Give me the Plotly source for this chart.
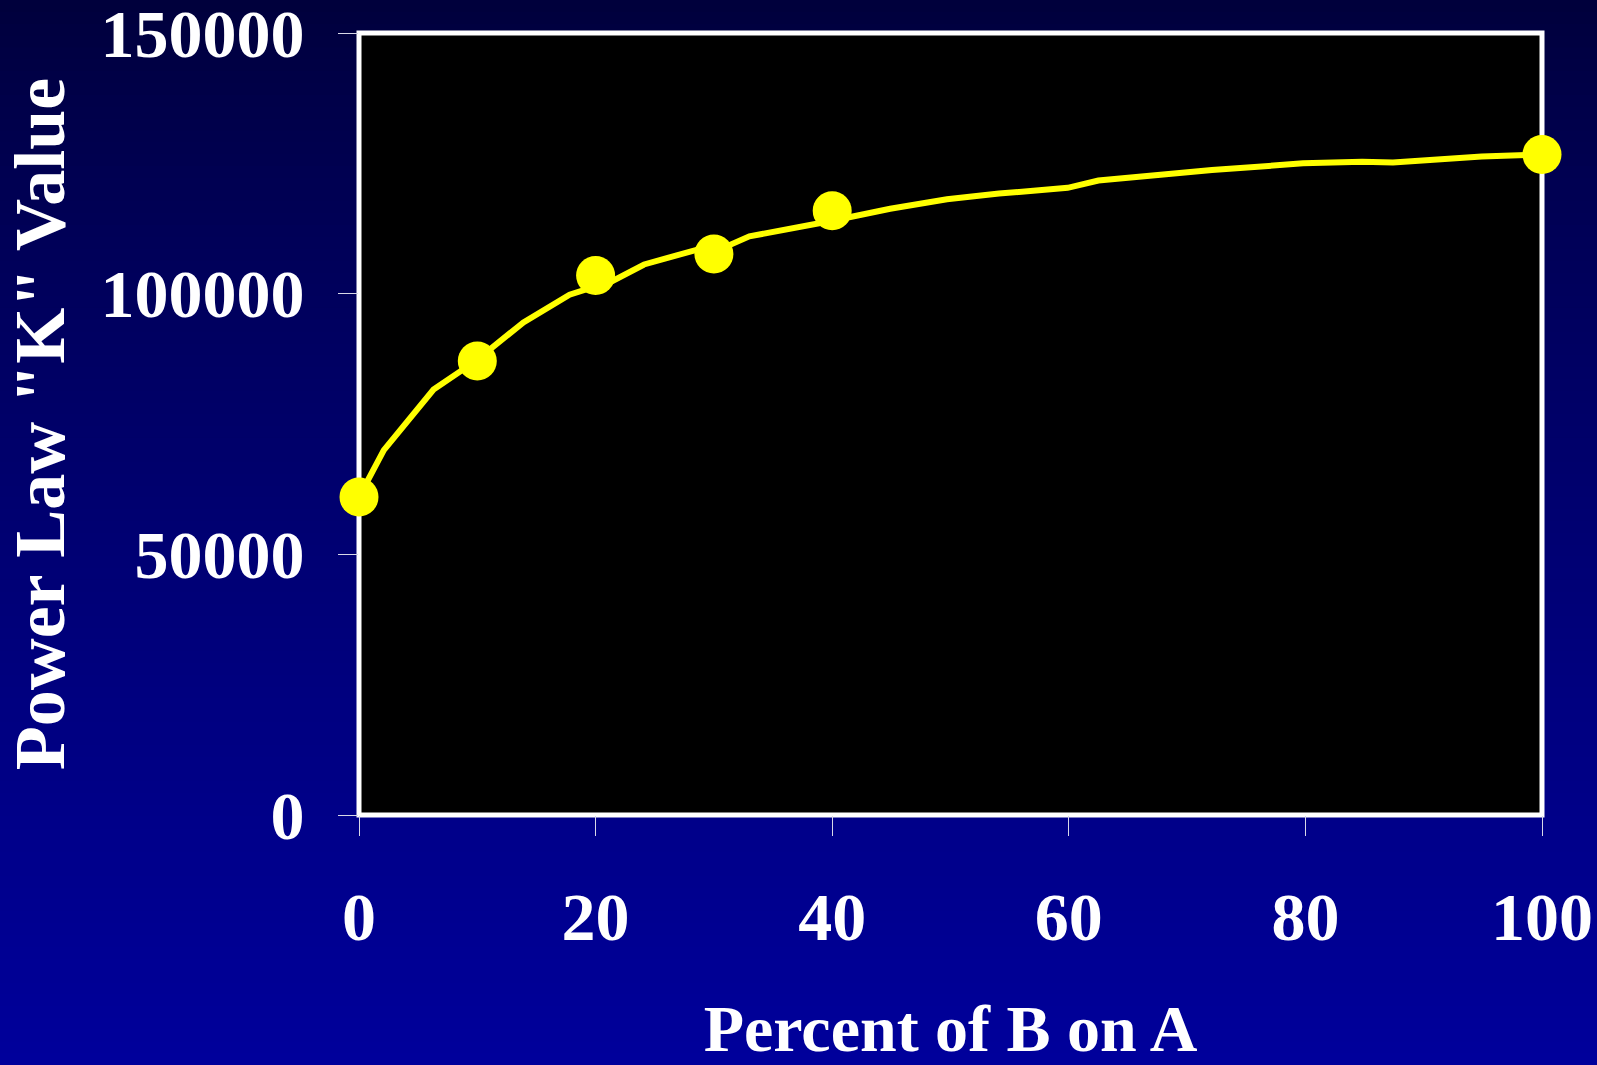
import plotly.graph_objects as go

# ── Datos ───────────────────────────────────────────────────────────────────
marker_pct = [0, 10, 20, 30, 40, 100]
marker_k = [61000, 87100, 103500, 107600, 115900, 126700]

curve_pct = [0, 2.1, 6.3, 9.9, 13.9, 17.8, 20.0, 21.4, 24.1, 28.6, 31.4, 33.0,
             39.8, 44.9, 49.7, 54.1, 59.9, 62.5, 72.1, 79.8, 84.8, 87.4, 94.9, 100]
curve_k = [61000, 70000, 81600, 87150, 94500, 99800, 101400, 102400, 105600,
           108450, 109400, 111000, 113900, 116300, 118100, 119200, 120300,
           121700, 123700, 125000, 125300, 125150, 126300, 126700]

x_ticks = [0, 20, 40, 60, 80, 100]
y_ticks = [0, 50000, 100000, 150000]

X_TITLE = "Percent of B on A"
Y_TITLE = 'Power Law "K" Value'

# ── Estilo ──────────────────────────────────────────────────────────────────
W, H = 1597, 1065
M = dict(l=359, r=55, t=33, b=250)
YELLOW = "#FFFF00"
SERIF = "Liberation Serif, Times New Roman, serif"
TICK_FONT = dict(family=SERIF, color="white", size=68, weight="bold")
X_TITLE_FONT = dict(family=SERIF, color="white", size=66, weight="bold")
Y_TITLE_FONT = dict(family=SERIF, color="white", size=72, weight="bold")

plot_w = W - M["l"] - M["r"]
plot_h = H - M["t"] - M["b"]

fig = go.Figure()

# Fondo degradado (franjas horizontales en coordenadas de papel)
n = 90
py_top = 1 + M["t"] / plot_h
py_bot = -M["b"] / plot_h
for i in range(n):
    t = (i + 0.5) / n
    b = round(58 + 97 * t ** 0.8)
    y1 = py_top - (py_top - py_bot) * i / n
    y0 = py_top - (py_top - py_bot) * (i + 1) / n
    fig.add_shape(type="rect", xref="paper", yref="paper",
                  x0=-1, x1=2, y0=y0 - 0.002, y1=y1,
                  fillcolor=f"rgb(0,0,{b})", line=dict(width=0), layer="below")

# Área de trazado negra con marco blanco
fig.add_shape(type="rect", xref="paper", yref="paper", x0=0, x1=1, y0=0, y1=1,
              fillcolor="black", line=dict(color="white", width=5), layer="below")

fig.add_trace(go.Scatter(
    x=curve_pct, y=curve_k, mode="lines",
    line=dict(color=YELLOW, width=6),
    hoverinfo="skip", cliponaxis=False,
))
fig.add_trace(go.Scatter(
    x=marker_pct, y=marker_k, mode="markers",
    marker=dict(color=YELLOW, size=39, line=dict(width=0)),
    hoverinfo="skip", cliponaxis=False,
))

axis_common = dict(
    showline=False, showgrid=False, zeroline=False,
    ticks="outside", ticklen=20, tickwidth=1, tickcolor="#d8d8e8",
    tickfont=TICK_FONT, ticklabeloverflow="allow",
    layer="below traces", automargin=False,
)

fig.update_layout(
    width=W, height=H,
    margin=M,
    paper_bgcolor="#000066",
    plot_bgcolor="black",
    showlegend=False,
    xaxis=dict(
        **axis_common,
        range=[0, 100],
        tickvals=x_ticks, ticklabelstandoff=22,
        title=dict(text=X_TITLE, font=X_TITLE_FONT, standoff=82),
    ),
    yaxis=dict(
        **axis_common,
        range=[0, 150000],
        tickvals=y_ticks, tickformat="d", ticklabelstandoff=20,
        title=dict(text=Y_TITLE, font=Y_TITLE_FONT, standoff=18),
    ),
)

fig.write_html(
    "out.html",
    config={"displayModeBar": False, "staticPlot": True},
    post_script="document.body.style.margin='0';document.body.style.overflow='hidden';",
)
